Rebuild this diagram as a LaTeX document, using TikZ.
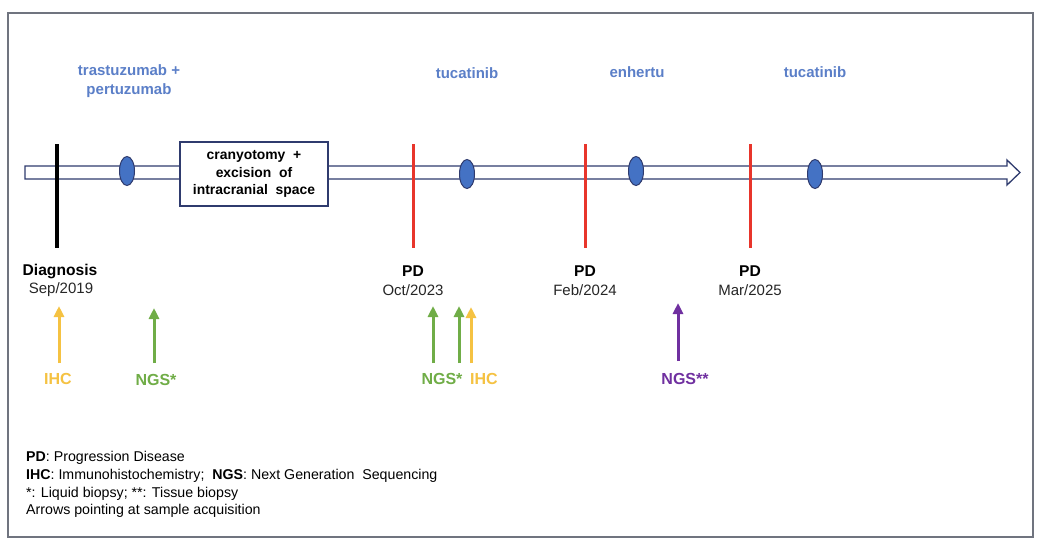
\documentclass[tikz,border=0pt]{standalone}
\usepackage{fontspec}
\setmainfont{Liberation Sans}
\usetikzlibrary{shapes.geometric,arrows.meta}
\definecolor{navy}{HTML}{2F3B6E}
\definecolor{dotblue}{HTML}{4472C4}
\definecolor{drugblue}{HTML}{5B7FC8}
\definecolor{pdred}{HTML}{E8352B}
\definecolor{ihcyellow}{HTML}{F5C242}
\definecolor{ngsgreen}{HTML}{70AD47}
\definecolor{ngspurple}{HTML}{7030A0}
\definecolor{framegray}{HTML}{70747F}
\tikzset{
  dot/.style={ellipse, draw=navy, line width=1pt, fill=dotblue, minimum width=15pt, minimum height=29pt, inner sep=0pt},
  drug/.style={text=drugblue, font=\fontsize{15}{18}\selectfont\bfseries, align=center, inner sep=0pt},
  evtitle/.style={font=\fontsize{15.6}{18}\selectfont\bfseries, inner sep=0pt},
  evdate/.style={font=\fontsize{15}{18}\selectfont, text=black!85, inner sep=0pt},
  pdline/.style={pdred, line width=3pt},
  samp/.style={line width=3pt, -{Triangle[length=11pt,width=10pt]}},
  samplab/.style={font=\fontsize{16}{18}\selectfont\bfseries, inner sep=0pt},
  legend/.style={font=\fontsize{14.2}{17.8}\selectfont, align=left, anchor=north west, inner sep=0pt}
}
\begin{document}
\begin{tikzpicture}[x=1pt,y=-1pt]
\useasboundingbox (0,0) rectangle (1048,549);
\fill[white] (0,0) rectangle (1048,549);
\draw[framegray, line width=1.8pt] (8,13) rectangle (1033,537);
% timeline band
\draw[navy, line width=1.3pt, fill=white] (25,166) -- (1007,166) -- (1007,160) -- (1020,172.5) -- (1007,185) -- (1007,179) -- (25,179) -- cycle;
% surgery box
\node[draw=navy, line width=1.2pt, fill=white, minimum width=148pt, minimum height=64pt, align=center, font=\fontsize{13.9}{17.5}\selectfont\bfseries, inner sep=0pt] (box) at (254,174) {cranyotomy\ \ +\\excision\ \ of\\intracranial\ \ space};
% vertical event lines
\coordinate (d0) at (57,144); \coordinate (d1) at (57,248);
\draw[black, line width=3.5pt] (d0) -- (d1);
\coordinate (p1a) at (413,144); \coordinate (p1b) at (413,248);
\coordinate (p2a) at (585,144); \coordinate (p2b) at (585,248);
\coordinate (p3a) at (750,144); \coordinate (p3b) at (750,248);
\draw[pdline] (p1a) -- (p1b);
\draw[pdline] (p2a) -- (p2b);
\draw[pdline] (p3a) -- (p3b);
% treatment dots
\node[dot] (e1) at (127,171) {};
\node[dot] (e2) at (467,174) {};
\node[dot] (e3) at (636,171) {};
\node[dot] (e4) at (815,174) {};
% drug labels
\node[drug] (t1) at (129,81) {trastuzumab +\\[1pt]pertuzumab};
\node[drug] (t2) at (467,73) {tucatinib};
\node[drug] (t3) at (637,72) {enhertu};
\node[drug] (t4) at (815,72) {tucatinib};
% event labels
\node[evtitle] (l0) at (60,271) {Diagnosis};
\node[evdate] (m0) at (61,290) {Sep/2019};
\node[evtitle] (l1) at (413,271) {PD};
\node[evdate] (m1) at (413,290) {Oct/2023};
\node[evtitle] (l2) at (585,271) {PD};
\node[evdate] (m2) at (585,290) {Feb/2024};
\node[evtitle] (l3) at (750,271) {PD};
\node[evdate] (m3) at (750,290) {Mar/2025};
% sample arrows
\coordinate (a1b) at (59,363); \coordinate (a1t) at (59,306);
\coordinate (a2b) at (154,363); \coordinate (a2t) at (154,308);
\coordinate (a3b) at (433,363); \coordinate (a3t) at (433,306);
\coordinate (a4b) at (459,363); \coordinate (a4t) at (459,306);
\coordinate (a5b) at (471,363); \coordinate (a5t) at (471,307);
\coordinate (a6b) at (678,361); \coordinate (a6t) at (678,303);
\draw[samp, ihcyellow] (a1b) -- (a1t);
\draw[samp, ngsgreen] (a2b) -- (a2t);
\draw[samp, ngsgreen] (a3b) -- (a3t);
\draw[samp, ngsgreen] (a4b) -- (a4t);
\draw[samp, ihcyellow] (a5b) -- (a5t);
\draw[samp, ngspurple] (a6b) -- (a6t);
\node[samplab, text=ihcyellow] (s1) at (58,379) {IHC};
\node[samplab, text=ngsgreen] (s2) at (156,380) {NGS*};
\node[samplab, text=ngsgreen] (s3) at (442,379) {NGS*};
\node[samplab, text=ihcyellow] (s4) at (484,379) {IHC};
\node[samplab, text=ngspurple] (s6) at (685,379) {NGS**};
% legend
\node[legend] (leg) at (26,451) {\textbf{PD}: Progression Disease\\
\textbf{IHC}: Immunohistochemistry;\ \ \textbf{NGS}: Next Generation\ \ Sequencing\\
*: Liquid biopsy; **: Tissue biopsy\\
Arrows pointing at sample acquisition};
\end{tikzpicture}
\end{document}
